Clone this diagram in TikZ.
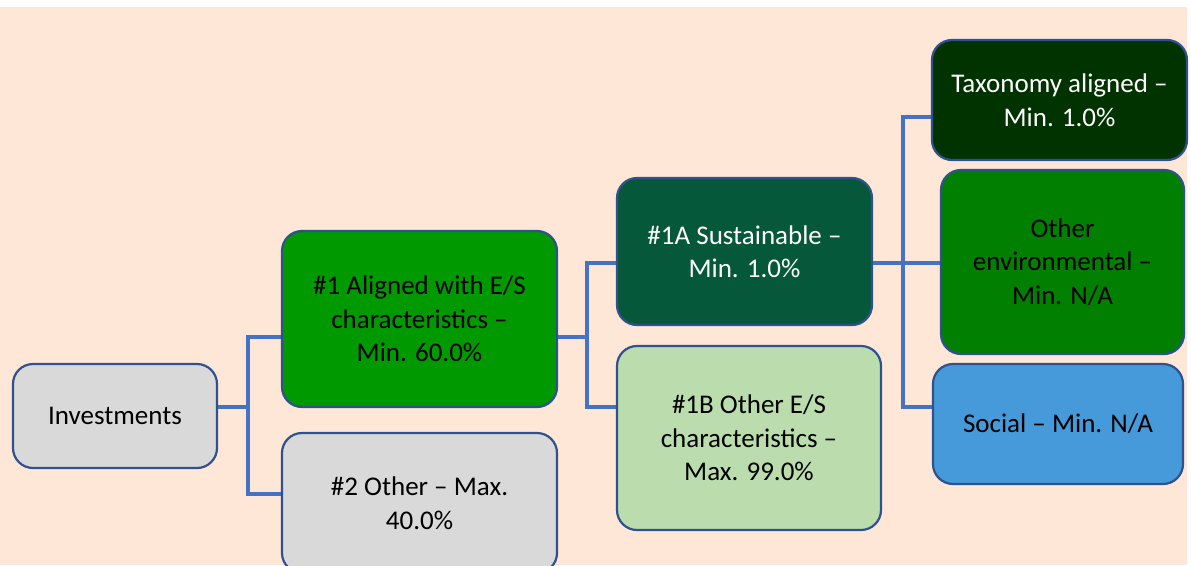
\documentclass[tikz,border=0pt]{standalone}
\usepackage{fontspec}
\setmainfont{Carlito}
\definecolor{bgpeach}{HTML}{FEE7D7}
\definecolor{bordblue}{HTML}{2F528F}
\definecolor{connblue}{HTML}{4472C4}
\definecolor{greybox}{HTML}{D9D9D9}
\definecolor{greenA}{HTML}{009900}
\definecolor{greenS}{HTML}{06583A}
\definecolor{greenL}{HTML}{BBDDAD}
\definecolor{greenT}{HTML}{003300}
\definecolor{greenE}{HTML}{007F00}
\definecolor{blueS}{HTML}{469ADA}
\pgfdeclarelayer{back}
\pgfdeclarelayer{links}
\pgfsetlayers{back,links,main}
\tikzset{
  box/.style={draw=bordblue, line width=2.2pt, rounded corners=20pt, inner sep=0pt,
    align=center, font=\fontsize{27pt}{33.5pt}\selectfont},
  conn/.style={draw=connblue, line width=4.8pt}
}
\begin{document}
\begin{tikzpicture}[x=1pt,y=-1pt]
\useasboundingbox (0,0) rectangle (1191,565);
\begin{pgfonlayer}{back}
\fill[white] (0,0) rectangle (1191,565);
\fill[bgpeach] (0,7) rectangle (1187,565);
\end{pgfonlayer}
\begin{scope}
\clip (0,0) rectangle (1191,565);
\coordinate (j1a) at (248,337);
\coordinate (j1b) at (248,494);
\coordinate (j2a) at (587,263);
\coordinate (j2b) at (587,407);
\coordinate (j3a) at (903,117);
\coordinate (j3c) at (903,407);

\node[box, fill=greybox, minimum width=204pt, minimum height=104pt] (inv) at (115,416) {Investments};
\node[box, fill=greenA, minimum width=275pt, minimum height=176pt] (n1) at (419.5,319) {\#1 Aligned with E/S\\characteristics --\\Min. 60.0\%};
\node[box, fill=greybox, minimum width=275pt, minimum height=140pt] (n2) at (419.5,503) {\#2 Other -- Max.\\40.0\%};
\node[box, fill=greenS, text=white, minimum width=255pt, minimum height=147pt] (n1a) at (744.5,251.5) {\#1A Sustainable --\\Min. 1.0\%};
\node[box, fill=greenL, minimum width=264pt, minimum height=184pt] (n1b) at (749,438) {\#1B Other E/S\\characteristics --\\Max. 99.0\%};
\node[box, fill=greenT, text=white, minimum width=255pt, minimum height=120pt] (tax) at (1059.5,100) {Taxonomy aligned --\\Min. 1.0\%};
\node[box, fill=greenE, minimum width=243pt, minimum height=184pt] (env) at (1062.5,262) {Other\\environmental --\\Min. N/A};
\node[box, fill=blueS, minimum width=250pt, minimum height=120pt] (soc) at (1058,424) {Social -- Min. N/A};
\end{scope}

\begin{pgfonlayer}{links}
\draw[conn] ([yshift=9pt]inv.east) -- ([yshift=9pt]inv.east -| j1a);
\draw[conn] (n1.west |- j1a) -- (j1a) -- (j1b) -- (n2.west |- j1b);
\draw[conn] (n1.east |- j1a) -- (j1a -| j2a);
\draw[conn] (n1a.west |- j2a) -- (j2a) -- (j2b) -- (n1b.west |- j2b);
\draw[conn] (n1a.east |- j2a) -- ([xshift=8pt]j2a -| j3a);
\draw[conn] (tax.west |- j3a) -- (j3a) -- (j3c) -- (soc.west |- j3c);
\draw[conn] (j2a -| j3a) -- (env.west |- j2a);
\end{pgfonlayer}
\end{tikzpicture}
\end{document}
